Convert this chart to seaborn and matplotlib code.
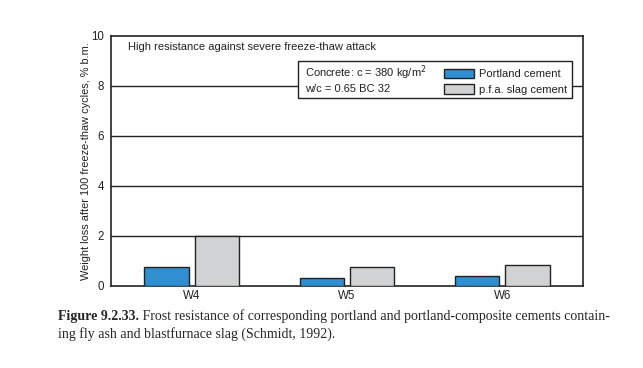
import pandas as pd
import matplotlib
matplotlib.use('Agg')
import matplotlib.pyplot as plt
import seaborn as sns
from matplotlib.patches import Rectangle

sns.set_style('white')
plt.rcParams['font.family'] = ['Liberation Sans', 'DejaVu Sans']

# data
mixes = ['W4', 'W5', 'W6']
portland = [0.76, 0.31, 0.39]
slag = [2.0, 0.75, 0.83]
series = ['Portland cement', 'p.f.a. slag cement']
colors = ['#2f8fd0', '#d1d2d4']

df = pd.DataFrame({
    'mix': mixes * 2,
    'loss': portland + slag,
    'cement': [series[0]] * 3 + [series[1]] * 3,
})

fig = plt.figure(figsize=(6.43, 3.68), dpi=100)
ax = fig.add_axes([111 / 643, (368 - 285.7) / 368, 472 / 643, 249.7 / 368])

sns.barplot(data=df, x='mix', y='loss', hue='cement', hue_order=series,
            palette=colors, width=0.65, gap=0.12, edgecolor='#222222',
            linewidth=1.0, saturation=1, ax=ax, legend=True, zorder=3)

ax.set_xlim(-0.52, 2.52)
ax.set_ylim(0, 10)
ax.set_yticks([0, 2, 4, 6, 8, 10])
for yv in [2, 4, 6, 8]:
    ax.axhline(yv, color='#222222', lw=1.0, zorder=1)
for s in ax.spines.values():
    s.set_color('#222222')
    s.set_linewidth(1.2)
ax.tick_params(axis='both', length=0, labelsize=8.3, colors='#222222', pad=5)
ax.tick_params(axis='x', pad=3)
ax.set_xlabel('')
ax.set_ylabel('Weight loss after 100 freeze-thaw cycles, % b.m.', fontsize=7.9,
              color='#222222', labelpad=0)

fs = 8
ax.text(0.036, 0.956, 'High resistance against severe freeze-thaw attack',
        transform=ax.transAxes, fontsize=fs, va='center', color='#222222')

# box with concrete info and legend
ax.add_patch(Rectangle((0.396, 0.752), 0.581, 0.148, transform=ax.transAxes,
                       facecolor='white', edgecolor='#222222', lw=1.0, zorder=4))
ax.text(0.411, 0.852, 'Concrete: c = 380 kg/m$^2$', transform=ax.transAxes,
        fontsize=fs, va='center', color='#222222', zorder=5)
ax.text(0.411, 0.788, 'w/c = 0.65 BC 32', transform=ax.transAxes,
        fontsize=fs, va='center', color='#222222', zorder=5)

handles, labels = ax.get_legend_handles_labels()
leg = ax.legend(handles, labels, loc='upper left', bbox_to_anchor=(0.688, 0.899),
                frameon=False, fontsize=fs, handlelength=2.7, handleheight=0.9,
                handletextpad=0.45, labelspacing=0.45, borderpad=0.2)
leg.set_zorder(6)
for t in leg.get_texts():
    t.set_color('#222222')

# caption
cap1 = fig.text(58 / 643, 1 - 320 / 368, 'Figure 9.2.33.', fontsize=10,
                family='Liberation Serif', weight='bold', va='baseline')
fig.canvas.draw()
ax.annotate(' Frost resistance of corresponding portland and portland-composite cements contain-',
            xy=(1, 0), xycoords=cap1, va='bottom', fontsize=10,
            family='Liberation Serif', annotation_clip=False)
fig.text(58 / 643, 1 - 338 / 368,
         'ing fly ash and blastfurnace slag (Schmidt, 1992).', fontsize=10,
         family='Liberation Serif', va='baseline')

fig.savefig('out.png', dpi=100)
